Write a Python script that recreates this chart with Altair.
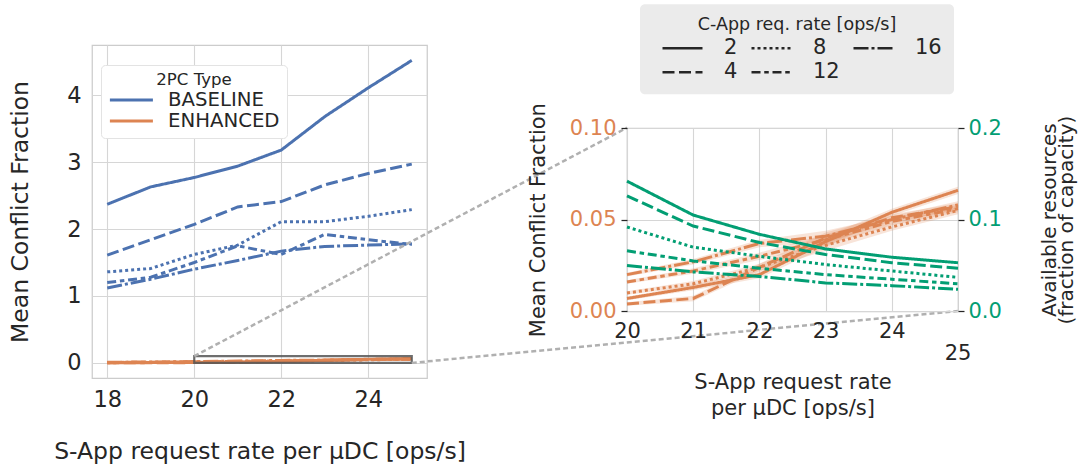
import altair as alt
import pandas as pd

FONT = "DejaVu Sans"
INK = "#262626"
BLUE = "#4C72B0"
ORANGE = "#DD8452"
GREEN = "#029E73"
GRID = "#d6d6d6"
FRAME = "#cccccc"
CONNECT = "#b0b0b0"

# ---------------- data ----------------
X_ALL = [18, 19, 20, 21, 22, 23, 24, 25]
X_ZOOM = [20, 21, 22, 23, 24, 25]
LEVELS = ["2", "4", "8", "12", "16"]
TYPES = ["BASELINE", "ENHANCED"]
DASHES = [[1, 0], [12, 4.5], [3, 3], [9, 3.75, 4.5, 3.75], [15, 3, 3, 3]]

BASE_2 = [2.37, 2.63, 2.77, 2.94, 3.18, 3.68, 4.11, 4.52]
BASE_4 = [1.61, 1.84, 2.07, 2.33, 2.41, 2.66, 2.83, 2.97]
BASE_8 = [1.36, 1.41, 1.62, 1.76, 2.11, 2.11, 2.19, 2.29]
BASE_12 = [1.20, 1.28, 1.50, 1.75, 1.62, 1.92, 1.84, 1.77]
BASE_16 = [1.12, 1.25, 1.40, 1.53, 1.67, 1.74, 1.76, 1.78]

ENH_2 = [0.002, 0.004, 0.007, 0.013, 0.020, 0.038, 0.054, 0.066]
ENH_4 = [0.001, 0.002, 0.004, 0.007, 0.024, 0.040, 0.051, 0.057]
ENH_8 = [0.003, 0.006, 0.010, 0.015, 0.024, 0.036, 0.046, 0.055]
ENH_12 = [0.006, 0.011, 0.016, 0.022, 0.030, 0.039, 0.049, 0.056]
ENH_16 = [0.009, 0.014, 0.020, 0.027, 0.037, 0.041, 0.050, 0.058]
ENH_CI = [0.0005, 0.0008, 0.001, 0.0015, 0.002, 0.003, 0.002, 0.002]

AVAIL_2 = [0.142, 0.105, 0.084, 0.068, 0.059, 0.053]
AVAIL_4 = [0.126, 0.093, 0.075, 0.062, 0.053, 0.047]
AVAIL_8 = [0.092, 0.070, 0.060, 0.051, 0.044, 0.037]
AVAIL_12 = [0.066, 0.055, 0.047, 0.040, 0.035, 0.030]
AVAIL_16 = [0.050, 0.043, 0.038, 0.031, 0.028, 0.024]

LEFT_X_DOMAIN = [17.65, 25.35]
LEFT_Y_DOMAIN = [-0.226, 4.75]
ZOOM_X = [20, 25]
ZOOM_Y = [0.0, 0.1]
AVAIL_DOMAIN = [0.0, 0.2]

# ---------------- layout ----------------
LW, LH = 335, 333
GAP = 200
RW, RH = 331, 183.3
SPACER_H = 82.7

# ---------------- tables ----------------
base_series = [BASE_2, BASE_4, BASE_8, BASE_12, BASE_16]
enh_series = [ENH_2, ENH_4, ENH_8, ENH_12, ENH_16]
avail_series = [AVAIL_2, AVAIL_4, AVAIL_8, AVAIL_12, AVAIL_16]

left_rows = []
for typ, group in zip(TYPES, [base_series, enh_series]):
    for lvl, vals in zip(LEVELS, group):
        for x, v in zip(X_ALL, vals):
            left_rows.append({"x": x, "value": v, "Type": typ, "C": lvl})
left_df = pd.DataFrame(left_rows)

enh_rows = []
for lvl, vals in zip(LEVELS, enh_series):
    for x, v, ci in zip(X_ALL, vals, ENH_CI):
        if x >= ZOOM_X[0]:
            enh_rows.append({"x": x, "value": v, "lo": v - ci, "hi": v + ci, "C": lvl})
enh_df = pd.DataFrame(enh_rows)

avail_rows = []
for lvl, vals in zip(LEVELS, avail_series):
    for x, v in zip(X_ZOOM, vals):
        avail_rows.append({"x": x, "avail": v, "C": lvl})
avail_df = pd.DataFrame(avail_rows)

dash_scale = alt.Scale(domain=LEVELS, range=DASHES)

# ---------------- left panel ----------------
lx = alt.X(
    "x:Q",
    scale=alt.Scale(domain=LEFT_X_DOMAIN, nice=False, zero=False),
    axis=alt.Axis(values=[18, 20, 22, 24], title="S-App request rate per μDC [ops/s]",
                  labelFontSize=22.5, titleFontSize=23.5, labelPadding=10, titlePadding=29,
                  labelFlush=False, grid=True, ticks=False, domain=False),
)
ly = alt.Y(
    "value:Q",
    scale=alt.Scale(domain=LEFT_Y_DOMAIN, nice=False, zero=False),
    axis=alt.Axis(values=[0, 1, 2, 3, 4], title="Mean Conflict Fraction",
                  labelFontSize=22.5, titleFontSize=23.5, labelPadding=11, titlePadding=34,
                  grid=True, ticks=False, domain=False),
)

left_lines = alt.Chart(left_df).mark_line(strokeWidth=3).encode(
    x=lx,
    y=ly,
    color=alt.Color(
        "Type:N",
        scale=alt.Scale(domain=TYPES, range=[BLUE, ORANGE]),
        legend=alt.Legend(
            title="2PC Type", orient="none", legendX=9, legendY=20,
            titleFontSize=16.6, titleFontWeight="normal", titleAnchor="middle",
            labelFontSize=19.7, symbolType="M-1,0H4", symbolSize=296, symbolStrokeWidth=3,
            labelOffset=39, padding=7, titlePadding=1, rowPadding=0,
            fillColor="#ffffff", strokeColor="#e3e3e3", cornerRadius=4,
            labelColor=INK, titleColor=INK,
        ),
    ),
    strokeDash=alt.StrokeDash("C:N", scale=dash_scale, legend=None),
)

zoom_box = alt.Chart(
    pd.DataFrame({"x": [ZOOM_X[0]], "x_end": [ZOOM_X[1]], "value": [ZOOM_Y[0]], "value_end": [ZOOM_Y[1]]})
).mark_rect(fill="transparent", stroke="#555555", strokeWidth=2.2, strokeOpacity=0.85).encode(
    x=lx, x2="x_end:Q", y=ly, y2="value_end:Q"
)

conn_top = alt.Chart(pd.DataFrame({"x": [ZOOM_X[0]], "value": [ZOOM_Y[1]]})).mark_rule(
    color=CONNECT, strokeWidth=2.5, strokeDash=[5, 3]
).encode(x=lx, y=ly, x2=alt.value(LW + GAP), y2=alt.value(SPACER_H))

conn_bot = alt.Chart(pd.DataFrame({"x": [ZOOM_X[1]], "value": [ZOOM_Y[0]]})).mark_rule(
    color=CONNECT, strokeWidth=2.5, strokeDash=[5, 3]
).encode(x=lx, y=ly, x2=alt.value(LW + GAP + RW), y2=alt.value(SPACER_H + RH))

left = alt.layer(left_lines, zoom_box, conn_top, conn_bot).properties(width=LW, height=LH)

# ---------------- right panel ----------------
rx = alt.X(
    "x:Q",
    scale=alt.Scale(domain=ZOOM_X, nice=False, zero=False),
    axis=alt.Axis(values=[20, 21, 22, 23, 24], title=["S-App request rate", "per μDC [ops/s]"],
                  labelFontSize=21, titleFontSize=21, labelPadding=9, titlePadding=30,
                  titleLineHeight=26.7, labelFlush=False, grid=True, ticks=False, domain=False),
)
ry_axis = alt.Axis(values=[0, 0.05, 0.1], format=".2f", labelColor=ORANGE, labelFontSize=21,
                   title="Mean Conflict Fraction", titleFontSize=21, titlePadding=21,
                   ticks=True, tickSize=6, tickColor=INK, tickWidth=1.25, labelPadding=5,
                   grid=True, domain=False)
ry_scale = alt.Scale(domain=ZOOM_Y, nice=False, zero=False)

dash_legend = alt.Legend(
    title="C-App req. rate [ops/s]", orient="none", legendX=13, legendY=3 - (44 + SPACER_H),
    columns=3, titleFontSize=17.5, titleFontWeight="normal", titleAnchor="middle",
    titleLimit=400, labelLimit=200,
    labelFontSize=21, symbolType="M0,0H5", symbolSize=256, symbolStrokeWidth=2.5,
    symbolStrokeColor=INK, labelOffset=51, columnPadding=3, rowPadding=2.3,
    titlePadding=3.7, padding=12, fillColor="#ebebeb", cornerRadius=5,
    labelColor=INK, titleColor=INK,
)

band = alt.Chart(enh_df).mark_area(color=ORANGE, opacity=0.22).encode(
    x=rx, y=alt.Y("lo:Q", scale=ry_scale, axis=ry_axis), y2="hi:Q", detail="C:N"
)
orange_lines = alt.Chart(enh_df).mark_line(strokeWidth=3, color=ORANGE).encode(
    x=rx, y=alt.Y("value:Q", scale=ry_scale, axis=ry_axis),
    strokeDash=alt.StrokeDash("C:N", scale=dash_scale, legend=dash_legend),
)
label_25 = alt.Chart(pd.DataFrame({"x": [ZOOM_X[1]], "t": ["25"]})).mark_text(
    fontSize=21, color=INK, baseline="middle", align="center"
).encode(x=rx, y=alt.value(RH + 43), text="t:N")

green_lines = alt.Chart(avail_df).mark_line(strokeWidth=3, color=GREEN).encode(
    x=rx,
    y=alt.Y("avail:Q", scale=alt.Scale(domain=AVAIL_DOMAIN, nice=False, zero=False),
            axis=alt.Axis(orient="right", values=[0, 0.1, 0.2], format=".1f", labelColor=GREEN,
                          labelFontSize=21, title=["Available resources", "(fraction of capacity)"],
                          titleFontSize=20, titleAngle=270, titleBaseline="top", titlePadding=21,
                          titleLineHeight=17, ticks=True, tickSize=6, tickColor=INK, tickWidth=1.25,
                          labelPadding=4, grid=False, domain=False)),
    strokeDash=alt.StrokeDash("C:N", scale=dash_scale, legend=dash_legend),
)

right = alt.layer(alt.layer(band, orange_lines, label_25), green_lines).resolve_scale(
    y="independent"
).properties(width=RW, height=RH)

spacer = alt.Chart(pd.DataFrame({"v": [0]})).mark_point(opacity=0).encode(
    x=alt.value(0), y=alt.value(0)
).properties(width=RW, height=SPACER_H, view=alt.ViewBackground(stroke="transparent"))

right_col = alt.vconcat(spacer, right, spacing=0, bounds="flush").resolve_scale(
    strokeDash="independent"
)

chart = alt.hconcat(left, right_col, spacing=GAP, bounds="flush").resolve_scale(
    color="independent", strokeDash="independent"
).properties(
    padding={"left": 8, "top": 3, "right": 0, "bottom": 2}
).configure(font=FONT).configure_view(
    stroke=FRAME, strokeWidth=1.25
).configure_axis(
    labelColor=INK, titleColor=INK, gridColor=GRID, gridWidth=1.1,
    titleFontWeight="normal", labelFont=FONT, titleFont=FONT,
).configure_legend(labelFont=FONT, titleFont=FONT)

chart.save("out.html", embed_options={"renderer": "svg", "actions": False})
